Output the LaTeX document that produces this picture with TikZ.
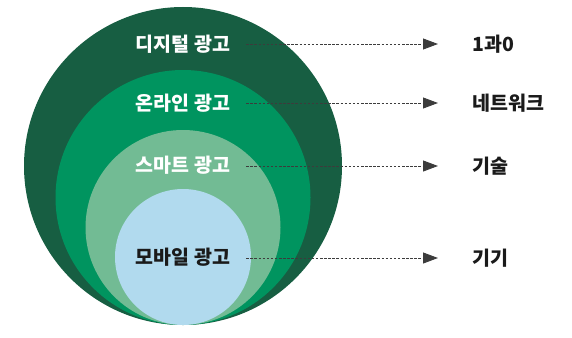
\documentclass[tikz,border=0pt]{standalone}
\usepackage{fontspec}
\setmainfont{Noto Sans CJK KR}
\usetikzlibrary{arrows.meta}
\definecolor{cdark}{HTML}{175E42}
\definecolor{cmid}{HTML}{00945F}
\definecolor{clight}{HTML}{72BB94}
\definecolor{cblue}{HTML}{B1DAEE}
\definecolor{ctext}{HTML}{1A1A1A}
\tikzset{
  inlabel/.style={font=\fontsize{19.5}{21}\selectfont\bfseries, inner sep=0pt, anchor=center},
  outlabel/.style={font=\fontsize{19.5}{21}\selectfont\bfseries, text=ctext, inner sep=0pt, anchor=west},
  conn/.style={draw=ctext!85, line width=0.9pt, dash pattern=on 2.5pt off 1.6pt, -{Triangle[length=15pt,width=11pt]}},
}
\begin{document}
\begin{tikzpicture}[x=1pt,y=-1pt]
\useasboundingbox (0,0) rectangle (572,337);
\fill[cdark] (183,166) circle (159);
\fill[cmid] (183,197.5) circle (127.5);
\fill[clight] (183,227.5) circle (97.5);
\fill[cblue] (183,257) circle (68);
\node[inlabel, text=white] (l1) at (183,44) {디지털 광고};
\node[inlabel, text=white] (l2) at (183,103) {온라인 광고};
\node[inlabel, text=white] (l3) at (183,165) {스마트 광고};
\node[inlabel, text=ctext] (l4) at (183,257) {모바일 광고};
\node[outlabel] (r1) at (472,44) {1과0};
\node[outlabel] (r2) at (472,103) {네트워크};
\node[outlabel] (r3) at (472,166) {기술};
\node[outlabel] (r4) at (472,258) {기기};
\draw[conn] ([xshift=16pt]l1.east |- r1.west) -- ([xshift=-34pt]r1.west);
\draw[conn] ([xshift=16pt]l2.east |- r2.west) -- ([xshift=-34pt]r2.west);
\draw[conn] ([xshift=16pt]l3.east |- r3.west) -- ([xshift=-34pt]r3.west);
\draw[conn] ([xshift=16pt]l4.east |- r4.west) -- ([xshift=-34pt]r4.west);
\end{tikzpicture}
\end{document}
